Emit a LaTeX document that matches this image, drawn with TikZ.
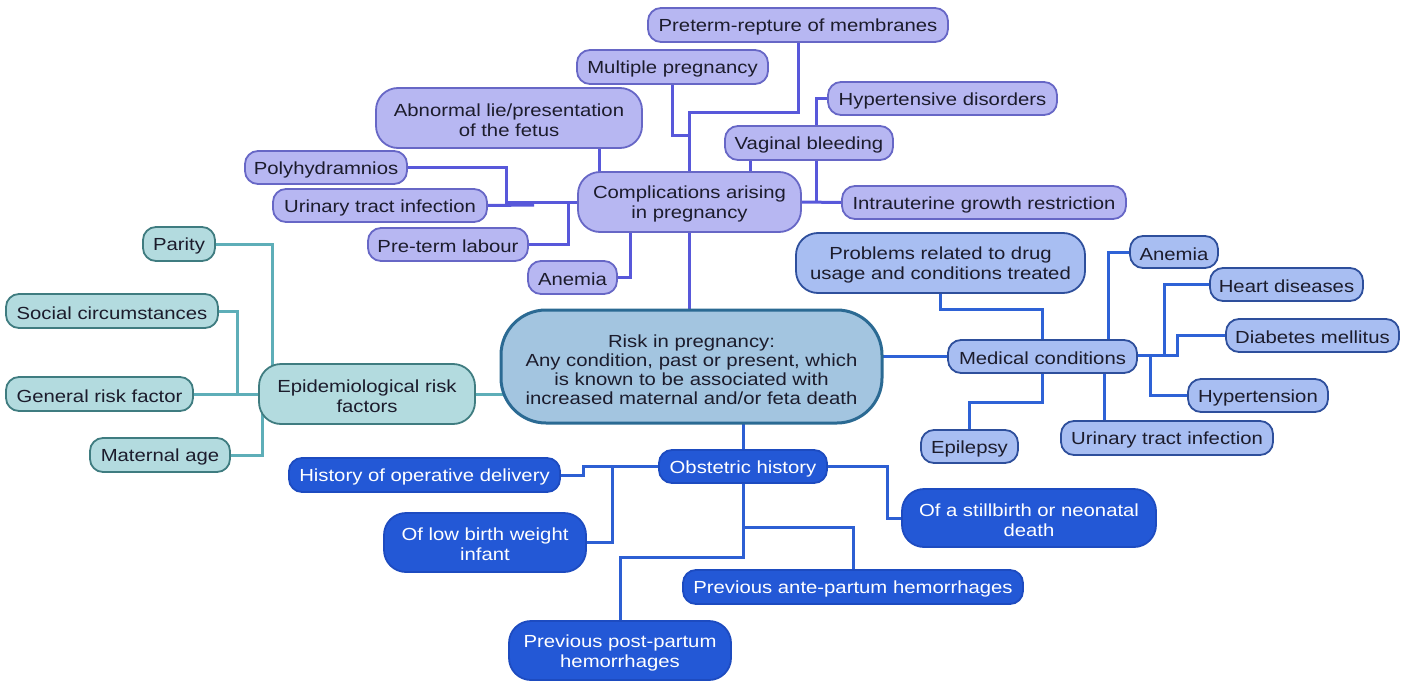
\documentclass[tikz,border=0pt]{standalone}
\usepackage{fontspec}
\setmainfont{Liberation Sans}[FakeStretch=1.16]
\usetikzlibrary{backgrounds,calc}
\definecolor{cfill}{HTML}{B7B7F2}
\definecolor{cdraw}{HTML}{6767C6}
\definecolor{cline}{HTML}{5858DA}
\definecolor{efill}{HTML}{B3DBDF}
\definecolor{edraw}{HTML}{3F7C80}
\definecolor{eline}{HTML}{5EAEB8}
\definecolor{mfill}{HTML}{A8BEF2}
\definecolor{mdraw}{HTML}{2E4F9C}
\definecolor{mline}{HTML}{2E62D6}
\definecolor{ofill}{HTML}{2358D6}
\definecolor{odraw}{HTML}{1D4BC0}
\definecolor{oline}{HTML}{2D5FD3}
\definecolor{zfill}{HTML}{A3C5E0}
\definecolor{zdraw}{HTML}{2B6A93}
\definecolor{dtext}{HTML}{1C1C2C}
\tikzset{
  box/.style={rectangle, rounded corners=13pt, line width=1.8pt, inner sep=0pt, align=center,
    font=\fontsize{17.5}{20}\selectfont, text=dtext,
    execute at begin node={\rule{0pt}{17pt}}},
  two/.style={rounded corners=22pt, execute at begin node={\rule{0pt}{37pt}}},
  compbox/.style={box, fill=cfill, draw=cdraw},
  epibox/.style={box, fill=efill, draw=edraw},
  medbox/.style={box, fill=mfill, draw=mdraw},
  obsbox/.style={box, fill=ofill, draw=odraw, text=white},
  cenbox/.style={box, rounded corners=45pt, fill=zfill, draw=zdraw, line width=3pt,
    font=\fontsize{17.5}{19}\selectfont, execute at begin node={\rule{0pt}{76pt}}},
  wh/.style 2 args={minimum width=#1pt, minimum height=#2pt},
  cc/.style={draw=cline, line width=3pt},
  ec/.style={draw=eline, line width=3pt},
  mc/.style={draw=mline, line width=3pt},
  oc/.style={draw=oline, line width=3pt},
}
\begin{document}
\begin{tikzpicture}[x=1pt,y=-1pt]
\useasboundingbox (0,0) rectangle (1412,682);
% central
\node[cenbox, wh={381}{113}] (cen) at (691.5,366.5) {Risk in pregnancy:\\Any condition, past or present, which\\is known to be associated with\\increased maternal and/or feta death};
% complications
\node[compbox, wh={300}{34}] (prm) at (798,25) {Preterm-repture of membranes};
\node[compbox, wh={191}{34}] (mp) at (672.5,67) {Multiple pregnancy};
\node[compbox, two, wh={266}{60}] (abn) at (509,118) {Abnormal lie/presentation\\of the fetus};
\node[compbox, wh={229}{33}] (hyp) at (942.5,98.5) {Hypertensive disorders};
\node[compbox, wh={168}{34}] (vb) at (809,143) {Vaginal bleeding};
\node[compbox, wh={162}{33}] (poly) at (326,167.5) {Polyhydramnios};
\node[compbox, wh={214}{33}] (uti1) at (380,205.5) {Urinary tract infection};
\node[compbox, two, wh={223}{60}] (comp) at (689.5,202) {Complications arising\\in pregnancy};
\node[compbox, wh={284}{33}] (iugr) at (984,202.5) {Intrauterine growth restriction};
\node[compbox, wh={160}{33}] (ptl) at (448,244.5) {Pre-term labour};
\node[compbox, wh={89}{33}] (an1) at (572.5,277.5) {Anemia};
% epidemiological
\node[epibox, wh={72}{34}] (par) at (179,244) {Parity};
\node[epibox, wh={212}{34}] (soc) at (112,311) {Social circumstances};
\node[epibox, wh={187}{34}] (gen) at (99.5,394) {General risk factor};
\node[epibox, wh={140}{34}] (mat) at (160,455) {Maternal age};
\node[epibox, two, wh={216}{60}] (epi) at (367,394) {Epidemiological risk\\factors};
% medical
\node[medbox, two, wh={289}{60}] (prob) at (940.5,263) {Problems related to drug\\usage and conditions treated};
\node[medbox, wh={189}{33}] (med) at (1042.5,356.5) {Medical conditions};
\node[medbox, wh={88}{32}] (an2) at (1174,252) {Anemia};
\node[medbox, wh={153}{33}] (heart) at (1286.5,284.5) {Heart diseases};
\node[medbox, wh={173}{33}] (diab) at (1312.5,335.5) {Diabetes mellitus};
\node[medbox, wh={140}{33}] (hypt) at (1258,395.5) {Hypertension};
\node[medbox, wh={212}{34}] (uti2) at (1167,438) {Urinary tract infection};
\node[medbox, wh={97}{33}] (epil) at (969.5,446.5) {Epilepsy};
% obstetric
\node[obsbox, wh={168}{33}] (obs) at (743,466.5) {Obstetric history};
\node[obsbox, wh={271}{34}] (hod) at (424.5,475) {History of operative delivery};
\node[obsbox, two, wh={202}{59}] (lbw) at (485,542.5) {Of low birth weight\\infant};
\node[obsbox, two, wh={254}{58}] (still) at (1029,518) {Of a stillbirth or neonatal\\death};
\node[obsbox, wh={340}{34}] (ante) at (853,587) {Previous ante-partum hemorrhages};
\node[obsbox, two, wh={222}{59}] (post) at (620,650.5) {Previous post-partum\\hemorrhages};
\begin{scope}[on background layer]
\fill[white] (0,0) rectangle (1412,682);
% complications connectors
\draw[cc] (prm.south) |- (comp.north |- 0,113) -- (comp.north);
\draw[cc] (mp.south) |- (comp.north |- 0,135);
\draw[cc] ([xshift=90pt]abn.south) -- ([xshift=90pt,yshift=-4pt]abn.south |- comp.north);
\draw[cc] ([xshift=-59pt]vb.south) -- ([xshift=-59pt,yshift=-4pt]vb.south |- comp.north);
\draw[cc] ([xshift=7pt]vb.north) |- (hyp.west);
\draw[cc] ([xshift=7pt]vb.south) -- ([xshift=7pt]vb.south |- comp.east);
\draw[cc] (comp.east) -- (iugr.west);
\draw[cc] (poly.east) -| ([xshift=-71pt]comp.west) -- (comp.west);
\draw[cc] (uti1.east) -- ([xshift=-43pt,yshift=-3pt]comp.west);
\draw[cc] (ptl.east) -| ([xshift=-9pt]comp.west);
\draw[cc] (an1.east) -| ([xshift=-59.5pt,yshift=4pt]comp.south);
\draw[cc] (comp.south) -- ([yshift=-6pt]comp.south |- cen.north);
% epidemiological connectors
\draw[ec] (par.east) -| ([xshift=14pt,yshift=-5pt]epi.north west);
\draw[ec] (soc.east) -| ([xshift=-21pt]epi.west) -- (epi.west);
\draw[ec] (gen.east) -- (epi.west);
\draw[ec] (mat.east) -| ([xshift=4pt]epi.west);
\draw[ec] (epi.east) -- (cen.center |- epi.east);
% medical connectors
\draw[mc] (cen.center |- med.west) -- (med.west);
\draw[mc] (prob.south) -- ++(0,16) -| (med.north);
\draw[mc] ([xshift=65.5pt]med.north) |- (an2.west);
\draw[mc] ([yshift=1.5pt]med.east) -- ++(27,0) |- (heart.west);
\draw[mc] ([yshift=1.5pt]med.east) -- ++(40,0) |- (diab.west);
\draw[mc] ([yshift=1.5pt]med.east) -- ++(13,0) |- (hypt.west);
\draw[mc] ([xshift=61.5pt]med.south) -- ([xshift=61.5pt]med.south |- uti2.north);
\draw[mc] (med.south) -- ++(0,29) -| (epil.north);
% obstetric connectors
\draw[oc] (cen.center -| obs.north) -- (obs.north);
\draw[oc] (hod.east) -- ++(23,0) |- (obs.west);
\draw[oc] (lbw.east) -| ([xshift=-46pt]obs.west);
\draw[oc] (obs.south) -- ++(0,74) -| (post.north);
\draw[oc] (obs.south) -- ++(0,44) -| (ante.north);
\draw[oc] (obs.east) -- ++(60,0) |- (still.west);
\end{scope}
\end{tikzpicture}
\end{document}
